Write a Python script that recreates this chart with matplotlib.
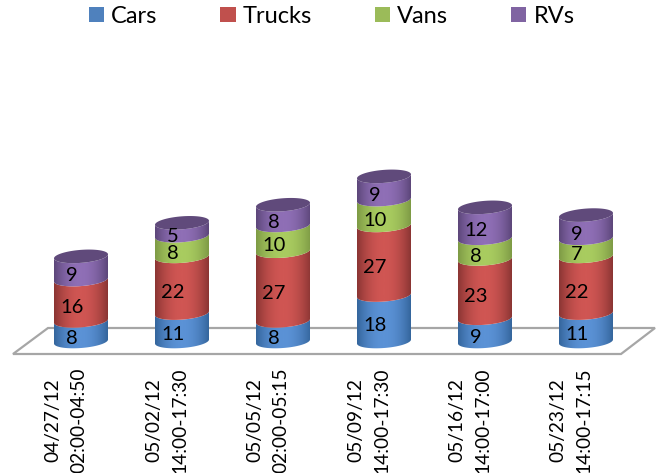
import numpy as np
import matplotlib
matplotlib.use('Agg')
import matplotlib.pyplot as plt
from matplotlib.colors import LinearSegmentedColormap
from matplotlib.patches import Patch, Polygon
from matplotlib.path import Path

plt.rcParams['font.family'] = ['Lato', 'DejaVu Sans']

dates = ['04/27/12\n02:00-04:50', '05/02/12\n14:00-17:30', '05/05/12\n02:00-05:15',
         '05/09/12\n14:00-17:30', '05/16/12\n14:00-17:00', '05/23/12\n14:00-17:15']
cars = [8, 11, 8, 18, 9, 11]
trucks = [16, 22, 27, 27, 23, 22]
vans = [0, 8, 10, 10, 8, 7]
rvs = [9, 5, 8, 9, 12, 9]
names = ['Cars', 'Trucks', 'Vans', 'RVs']
series = [cars, trucks, vans, rvs]
flat = ['#4f81bd', '#c0504d', '#9bbb59', '#8064a2']
edge = ['#34659c', '#8a3533', '#7d9a45', '#5c4679']
mid = ['#5b92d6', '#d05653', '#a9cc60', '#8f6fb6']
cap = '#604a7b'

W, H = 658, 473
# one category = 101 px, one unit = 2.58 px, zero sits at px (81, 341.5)
px_x, px_y = 101.0, 2.58
x0, y0 = 81.0, 341.5
half_w = 27.0 / px_x
half_h = 6.5 / px_y
tilt = 2.0 / px_y

fig = plt.figure(figsize=(W / 100, H / 100), dpi=100)
ax = fig.add_axes([0, 0, 1, 1])
xlim = (-x0 / px_x, (W - x0) / px_x)
ylim = ((y0 - H) / px_y, y0 / px_y)
ax.axis('off')

# floor of the 3d chart, in screen pixels
floor = [(13, H - 354), (48, H - 328), (655, H - 328), (621, H - 354)]
ax.add_patch(Polygon(floor, closed=True, fc='white', ec='#a6a6a6', lw=1.6,
                     transform=None, zorder=1))

t_front = np.linspace(0, np.pi, 60)
t_all = np.linspace(0, 2 * np.pi, 120)


def ring(i, v, t):
    return i + half_w * np.cos(t), v - half_h * np.sin(t) + tilt * np.cos(t)


def shade(i, verts, cmap, z):
    grad = np.abs(np.linspace(-1, 1, 200))[None, :] ** 2
    im = ax.imshow(grad, cmap=cmap, vmin=0, vmax=1, aspect='auto', zorder=z,
                   extent=(i - half_w, i + half_w, ylim[0], ylim[1]))
    im.set_clip_path(Path(verts), transform=ax.transData)


for i in range(len(dates)):
    bottom = 0
    for s, vals in enumerate(series):
        v = vals[i]
        if v == 0:
            continue
        xa, ya = ring(i, bottom, t_front)
        xb, yb = ring(i, bottom + v, t_front[::-1])
        verts = np.column_stack([np.r_[xa, xb, xa[0]], np.r_[ya, yb, ya[0]]])
        cmap = LinearSegmentedColormap.from_list('c%d' % s, [mid[s], edge[s]])
        shade(i, verts, cmap, 3 + s)
        ax.text(i - 9 / px_x, bottom + v / 2 - 7.5 / px_y, str(v), fontsize=14.5,
                ha='center', va='center', color='black', zorder=10)
        bottom += v
    xc, yc = ring(i, bottom, t_all)
    ax.fill(xc, yc, color=cap, lw=0, zorder=8)
    ax.text(i - 15 / px_x, -30.4, dates[i], rotation=90, fontsize=13.8, ha='center',
            va='center', multialignment='center', linespacing=1.6, color='black')

ax.set_xlim(xlim)
ax.set_ylim(ylim)

handles = [Patch(fc=c, ec='none') for c in flat]
ax.legend(handles, names, loc='upper center', bbox_to_anchor=(0.504, 1.033), ncol=4,
          frameon=False, fontsize=17, handlelength=0.64, handleheight=0.64,
          handletextpad=0.3, columnspacing=2.67, labelcolor='black')

fig.savefig('out.png', dpi=100)
